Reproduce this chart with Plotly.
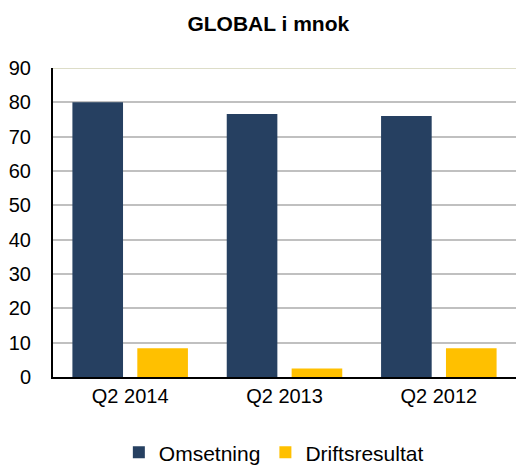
import plotly.graph_objects as go

categories = ["Q2 2014", "Q2 2013", "Q2 2012"]
omsetning = [80.0, 76.6, 76.0]
driftsresultat = [8.4, 2.5, 8.4]
y_ticks = [0, 10, 20, 30, 40, 50, 60, 70, 80, 90]

fig = go.Figure()
fig.add_trace(go.Bar(x=categories, y=omsetning, name="Omsetning",
                     marker=dict(color="#264061", line=dict(width=0))))
fig.add_trace(go.Bar(x=categories, y=driftsresultat, name="Driftsresultat",
                     marker=dict(color="#FFC000", line=dict(width=0))))

fig.update_layout(
    width=516, height=466,
    margin=dict(l=53, r=0, t=68, b=89, autoexpand=False),
    paper_bgcolor="white", plot_bgcolor="white",
    barmode="group", bargap=0.159, bargroupgap=0.22,
    font=dict(family="Liberation Sans, Arial, sans-serif", size=20, color="black"),
    title=dict(text="<b>GLOBAL i mnok</b>", x=0.52, xanchor="center", y=0.95, yanchor="middle",
               font=dict(size=21, color="black")),
    showlegend=True,
    legend=dict(orientation="h", x=0.477, xanchor="center", y=-0.245, yanchor="middle",
                font=dict(size=21), itemwidth=30, tracegroupgap=0),
    xaxis=dict(showline=True, linecolor="black", linewidth=2, ticks="",
               tickfont=dict(size=20), automargin=False),
    yaxis=dict(range=[0, 90], tickvals=y_ticks, showgrid=True, gridcolor="#C0C0C0",
               gridwidth=1.5, showline=True, linecolor="black", linewidth=2,
               ticks="", ticklabelstandoff=16, tickfont=dict(size=20), zeroline=False,
               automargin=False),
)
fig.add_shape(type="line", xref="paper", yref="y", x0=0, x1=1, y0=90, y1=90,
              line=dict(color="#DDDDC8", width=2))
fig.write_html("out.html", config={"displayModeBar": False},
               post_script="document.body.style.margin='0';")
